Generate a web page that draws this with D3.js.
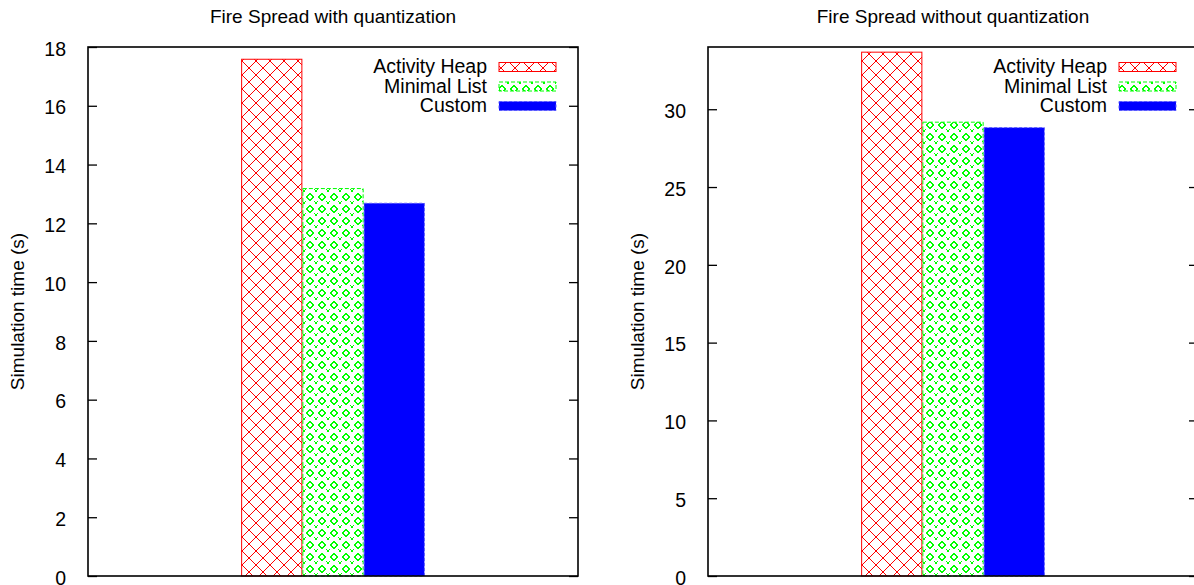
<!DOCTYPE html>
<html>
<head>
<meta charset="utf-8">
<script src="https://cdn.jsdelivr.net/npm/d3@7"></script>
<style>
  html, body { margin: 0; padding: 0; background: #fff; }
  svg { display: block; font-family: "Liberation Sans", Arial, Helvetica, sans-serif; }
</style>
</head>
<body>
<svg id="chart" width="1194" height="585"></svg>
<script>
// ---- data ----
const seriesNames = ["Activity Heap", "Minimal List", "Custom"];
const withQuantization = [17.6, 13.2, 12.7];
const withoutQuantization = [33.7, 29.2, 28.85];
const panelTitles = ["Fire Spread with quantization", "Fire Spread without quantization"];
const yLabel = "Simulation time (s)";
const ticksWith = [0, 2, 4, 6, 8, 10, 12, 14, 16, 18];
const ticksWithout = [0, 5, 10, 15, 20, 25, 30];
const yMaxWith = 18;
const yMaxWithout = 34;

// ---- layout ----
const svg = d3.select("#chart");
const W = 490, H = 529, plotTop = 47;
const panels = [
  { left: 88, title: panelTitles[0], values: withQuantization, ticks: ticksWith, ymax: yMaxWith },
  { left: 708, title: panelTitles[1], values: withoutQuantization, ticks: ticksWithout, ymax: yMaxWithout }
];

const defs = svg.append("defs");
// red crosshatch
const p1 = defs.append("pattern").attr("id", "pat0").attr("patternUnits", "userSpaceOnUse")
  .attr("width", 14).attr("height", 14);
p1.append("path").attr("d", "M0,0L14,14M14,0L0,14").attr("stroke", "#ff0000").attr("stroke-width", 1.2)
  .attr("fill", "none").attr("shape-rendering", "crispEdges");
// green diamonds + x's
const p2 = defs.append("pattern").attr("id", "pat1").attr("patternUnits", "userSpaceOnUse")
  .attr("width", 12).attr("height", 12);
p2.append("path").attr("d", "M6,2.5L9.5,6L6,9.5L2.5,6Z").attr("stroke", "#00ff00").attr("stroke-width", 1.1)
  .attr("fill", "none").attr("shape-rendering", "crispEdges");
p2.append("path").attr("d", "M-1.5,-1.5L1.5,1.5M1.5,-1.5L-1.5,1.5M10.5,-1.5L13.5,1.5M13.5,-1.5L10.5,1.5M-1.5,10.5L1.5,13.5M1.5,10.5L-1.5,13.5M10.5,10.5L13.5,13.5M13.5,10.5L10.5,13.5")
  .attr("stroke", "#00ff00").attr("stroke-width", 1.1).attr("fill", "none").attr("shape-rendering", "crispEdges");

const fills = ["url(#pat0)", "url(#pat1)", "#0000ff"];
const strokes = ["#ff0000", "#00ff00", "#5a5aff"];
const dashes = [null, "4,2", "3,2"];

panels.forEach((p) => {
  const g = svg.append("g").attr("transform", `translate(${p.left},${plotTop})`);
  const x = d3.scaleLinear().domain([-4, 4]).range([0, W]);
  const y = d3.scaleLinear().domain([0, p.ymax]).range([H, 0]);

  // bars
  g.selectAll("rect.bar").data(p.values).join("rect")
    .attr("class", "bar")
    .attr("x", (d, i) => x(i - 1.5) + 0.5)
    .attr("width", (d, i) => x(i - 0.5) - x(i - 1.5) - 1)
    .attr("y", d => y(d) + 0.5)
    .attr("height", d => y(0) - y(d) - 0.5)
    .attr("fill", (d, i) => fills[i])
    .attr("stroke", (d, i) => strokes[i])
    .attr("stroke-width", 1)
    .attr("stroke-dasharray", (d, i) => dashes[i]);

  // left axis ticks (inward) + labels
  const yAxisL = d3.axisLeft(y).tickValues(p.ticks).tickSize(-9).tickPadding(22).tickFormat(d3.format("d"));
  const gl = g.append("g").call(yAxisL);
  gl.select(".domain").remove();
  gl.selectAll("line").attr("stroke", "#000").attr("stroke-width", 1.3);
  gl.selectAll("text").attr("font-size", 19.5).attr("fill", "#000").attr("dy", "0.42em");
  // right axis ticks (inward, no labels)
  const yAxisR = d3.axisRight(y).tickValues(p.ticks).tickSize(-9).tickFormat("");
  const gr = g.append("g").attr("transform", `translate(${W},0)`).call(yAxisR);
  gr.select(".domain").remove();
  gr.selectAll("line").attr("stroke", "#000").attr("stroke-width", 1.3);

  // frame
  g.append("rect").attr("x", 0).attr("y", 0).attr("width", W).attr("height", H)
    .attr("fill", "none").attr("stroke", "#000").attr("stroke-width", 1.6);

  // title
  g.append("text").attr("x", W / 2).attr("y", -24).attr("text-anchor", "middle")
    .attr("font-size", 19).attr("fill", "#000").text(p.title);

  // y label
  g.append("text").attr("transform", `translate(-64,${H / 2}) rotate(-90)`)
    .attr("text-anchor", "middle").attr("font-size", 19).attr("fill", "#000").text(yLabel);

  // legend
  const lg = g.append("g");
  seriesNames.forEach((name, i) => {
    const by = 26 + i * 19.5;
    lg.append("text").attr("x", W - 91).attr("y", by).attr("text-anchor", "end")
      .attr("font-size", 19.5).attr("fill", "#000").text(name);
    lg.append("rect").attr("x", W - 79).attr("y", by - 10.5).attr("width", 57).attr("height", 9)
      .attr("fill", fills[i]).attr("stroke", strokes[i]).attr("stroke-width", 1)
      .attr("stroke-dasharray", dashes[i]);
  });
});
</script>
</body>
</html>
